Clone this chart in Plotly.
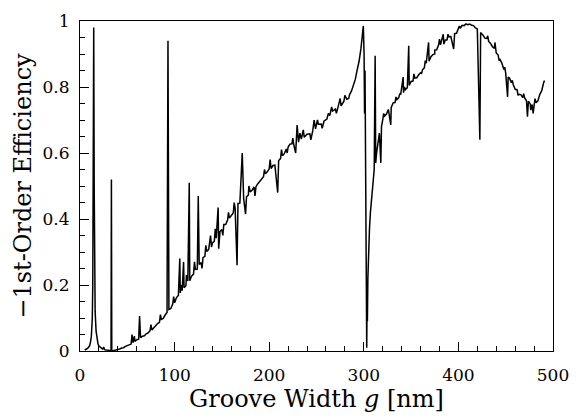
import plotly.graph_objects as go

# Groove width g [nm] – main trace samples
groove_width = [
    5, 8, 10, 11, 12, 13, 13.5, 14, 14.5, 15, 15.5, 16, 17, 18, 19, 20, 22, 24, 25, 26, 28, 30, 32,
    32.8, 33.2, 33.6, 35, 37, 40, 42, 44, 46, 48, 50, 52, 54, 55, 56, 58, 60, 62, 63, 64, 66, 68,
    70, 72, 74, 76, 78, 80, 82, 84, 86, 88, 90, 92, 93, 94, 96, 98, 100, 102, 104, 105.5, 106,
    108, 109.5, 110, 112, 114, 115.5, 116, 118, 120, 122, 124, 125, 126, 128, 130, 132, 134, 136,
    138, 139, 140, 142, 144, 146, 146.6, 148, 150, 152, 154, 156, 158, 160, 162, 164, 166, 167,
    169, 171.5, 173, 175, 176, 178, 180, 182, 184, 186, 188, 190, 192, 194, 196, 198, 200, 202,
    204, 206, 209, 210, 212, 214, 216, 218, 220, 222, 224, 226, 228, 229.5, 231, 232.5, 234, 237,
    240, 243, 246, 247.5, 249, 252, 255, 258, 261, 262.5, 264, 267, 270, 273, 275, 276, 279, 282,
    285, 287, 289, 291, 293, 295, 297, 298.5, 299.5, 300.3, 300.8, 301.3, 301.8, 302.3, 302.8,
    303.1, 303.5, 303.8, 304.3, 305, 306, 307, 308, 309, 310, 311, 312, 312.6, 313.5, 315, 316.5,
    318, 318.7, 320, 322, 324, 326, 328.5, 329, 331, 333, 335, 337, 339, 341.6, 342, 344, 346,
    347.5, 348, 350, 352, 354, 356, 358, 360, 362, 364, 366, 368.5, 369, 371, 373, 375, 377, 379,
    381, 384, 384.6, 386, 388, 390, 392, 395, 396, 398, 400, 402, 404, 406, 408, 410, 412, 414,
    416, 418, 420, 422.7, 423.5, 426, 428, 430, 432, 434, 436, 438, 438.6, 440, 442, 444, 446, 448,
    450, 452, 452.6, 454, 456, 458, 460, 462, 464, 466, 468, 470, 472, 473, 474, 476, 478, 479,
    480, 482, 484, 486, 488, 490, 491,
]

# -1st-order efficiency – main trace samples
efficiency = [
    0.003, 0.008, 0.015, 0.025, 0.045, 0.10, 0.20, 0.45, 0.98, 0.50, 0.22, 0.12, 0.06, 0.035, 0.022,
    0.015, 0.009, 0.006, 0.012, 0.004, 0.003, 0.002, 0.001,
    0.001, 0.52, 0.001, 0.001, 0.002, 0.004, 0.006, 0.009, 0.010, 0.014, 0.016, 0.020, 0.021, 0.050,
    0.025, 0.029, 0.034, 0.036, 0.106, 0.040, 0.045, 0.046,
    0.052, 0.055, 0.061, 0.064, 0.071, 0.075, 0.083, 0.087, 0.096, 0.099, 0.109, 0.117, 0.94, 0.126,
    0.129, 0.142, 0.146, 0.162, 0.168, 0.28, 0.176,
    0.183, 0.27, 0.192, 0.198, 0.212, 0.51, 0.213, 0.227, 0.233, 0.247, 0.248, 0.47, 0.262, 0.268,
    0.283, 0.287, 0.302, 0.307,
    0.35, 0.315, 0.327, 0.333, 0.342, 0.435, 0.31, 0.362, 0.368, 0.383, 0.383, 0.397, 0.403, 0.412,
    0.418, 0.432, 0.26, 0.447,
    0.448, 0.60, 0.462, 0.415, 0.467, 0.473, 0.482, 0.488, 0.497, 0.498, 0.507, 0.513, 0.522, 0.528,
    0.537, 0.543, 0.552, 0.553,
    0.562, 0.563, 0.48, 0.577, 0.583, 0.592, 0.598, 0.612, 0.618, 0.627, 0.628, 0.625, 0.60, 0.685,
    0.633, 0.66, 0.642, 0.648,
    0.657, 0.658, 0.667, 0.70, 0.673, 0.687, 0.688, 0.697, 0.703, 0.72, 0.713, 0.727, 0.733, 0.742,
    0.765, 0.743, 0.757, 0.763,
    0.777, 0.788, 0.807, 0.823, 0.852, 0.878, 0.917, 0.95, 0.985, 0.90, 0.72, 0.85, 0.60, 0.30, 0.02,
    0.01, 0.17, 0.09, 0.22, 0.30, 0.37, 0.42, 0.46, 0.49, 0.52, 0.55, 0.895, 0.57, 0.60, 0.63, 0.66,
    0.57, 0.68, 0.70, 0.712, 0.718, 0.732, 0.685, 0.738, 0.752, 0.753, 0.762, 0.768, 0.777, 0.83,
    0.783, 0.792, 0.798,
    0.925, 0.805, 0.817, 0.818, 0.827, 0.828, 0.837, 0.843, 0.852, 0.858, 0.872, 0.935, 0.878, 0.892,
    0.898, 0.912, 0.913, 0.927,
    0.928, 0.96, 0.93, 0.942, 0.943, 0.952, 0.953, 0.915, 0.962, 0.963, 0.977, 0.978, 0.987, 0.986,
    0.991, 0.989, 0.991, 0.987,
    0.986, 0.979, 0.976, 0.64, 0.965, 0.957, 0.948, 0.947, 0.938, 0.932, 0.922, 0.917, 0.935, 0.903,
    0.897, 0.883, 0.872, 0.853,
    0.842, 0.77, 0.83, 0.827, 0.813, 0.807, 0.793, 0.792, 0.778, 0.777, 0.768, 0.767, 0.758, 0.71,
    0.757, 0.748, 0.747, 0.72,
    0.743, 0.752, 0.758, 0.777, 0.788, 0.812, 0.82,
]

# Small resonance spikes (ripples) on top of the main trace
ripple_width = [
    57.5, 75, 85, 99, 107, 112.5, 121, 129, 133, 143, 151, 157, 163, 178.5, 185, 195, 201, 213,
    219, 225, 236, 244, 251, 256, 266, 271, 280, 284, 321, 327, 334, 338, 343, 353, 361, 365, 375,
    380, 389, 401, 431, 443, 449, 457, 463, 469, 476.5, 481,
]
ripple_efficiency = [
    0.045, 0.08, 0.11, 0.165, 0.20, 0.23, 0.27, 0.25, 0.32, 0.37, 0.35, 0.42, 0.45, 0.50, 0.47,
    0.55, 0.58, 0.61, 0.60, 0.645, 0.67, 0.64, 0.70, 0.675, 0.74, 0.72, 0.775, 0.765, 0.72, 0.71,
    0.77, 0.78, 0.80, 0.84, 0.84, 0.88, 0.90, 0.945, 0.96, 0.985, 0.955, 0.88, 0.86, 0.82, 0.775,
    0.78, 0.73, 0.765,
]

x_ticks = [0, 100, 200, 300, 400, 500]
y_ticks = [0, 0.2, 0.4, 0.6, 0.8, 1]
y_tick_labels = ["0", "0.2", "0.4", "0.6", "0.8", "1"]

# merge main samples and ripples in order of groove width
pairs = sorted(zip(groove_width + ripple_width, efficiency + ripple_efficiency))
xs = [p[0] for p in pairs]
ys = [p[1] for p in pairs]

FONT = "DejaVu Serif"

fig = go.Figure()
fig.add_trace(go.Scatter(
    x=xs, y=ys, mode="lines",
    line=dict(color="black", width=1.5),
    showlegend=False,
))

fig.update_layout(
    width=580, height=419,
    margin=dict(l=80, r=17, t=11, b=68),
    paper_bgcolor="white", plot_bgcolor="white",
    font=dict(family=FONT, color="black", size=17),
)
fig.update_xaxes(
    range=[0, 500], tickvals=x_ticks, ticktext=[str(v) for v in x_ticks],
    ticks="inside", ticklen=9, tickwidth=1, tickcolor="black",
    minor=dict(dtick=20, ticks="inside", ticklen=5, tickcolor="black", tickwidth=1),
    showline=True, linecolor="black", linewidth=1.2, mirror=True,
    showgrid=False, zeroline=False,
    tickfont=dict(family=FONT, size=17),
    ticklabelstandoff=8,
    title=dict(text="Groove Width <i>g</i> [nm]", font=dict(family=FONT, size=24), standoff=6),
)
fig.update_yaxes(
    range=[0, 1], tickvals=y_ticks, ticktext=y_tick_labels,
    ticks="inside", ticklen=9, tickwidth=1, tickcolor="black",
    minor=dict(dtick=0.05, ticks="inside", ticklen=5, tickcolor="black", tickwidth=1),
    showline=True, linecolor="black", linewidth=1.2, mirror=True,
    showgrid=False, zeroline=False,
    tickfont=dict(family=FONT, size=17),
    ticklabelstandoff=6,
    title=dict(text="\u22121st-Order Efficiency", font=dict(family=FONT, size=24), standoff=4),
)

fig.write_html("out.html")
